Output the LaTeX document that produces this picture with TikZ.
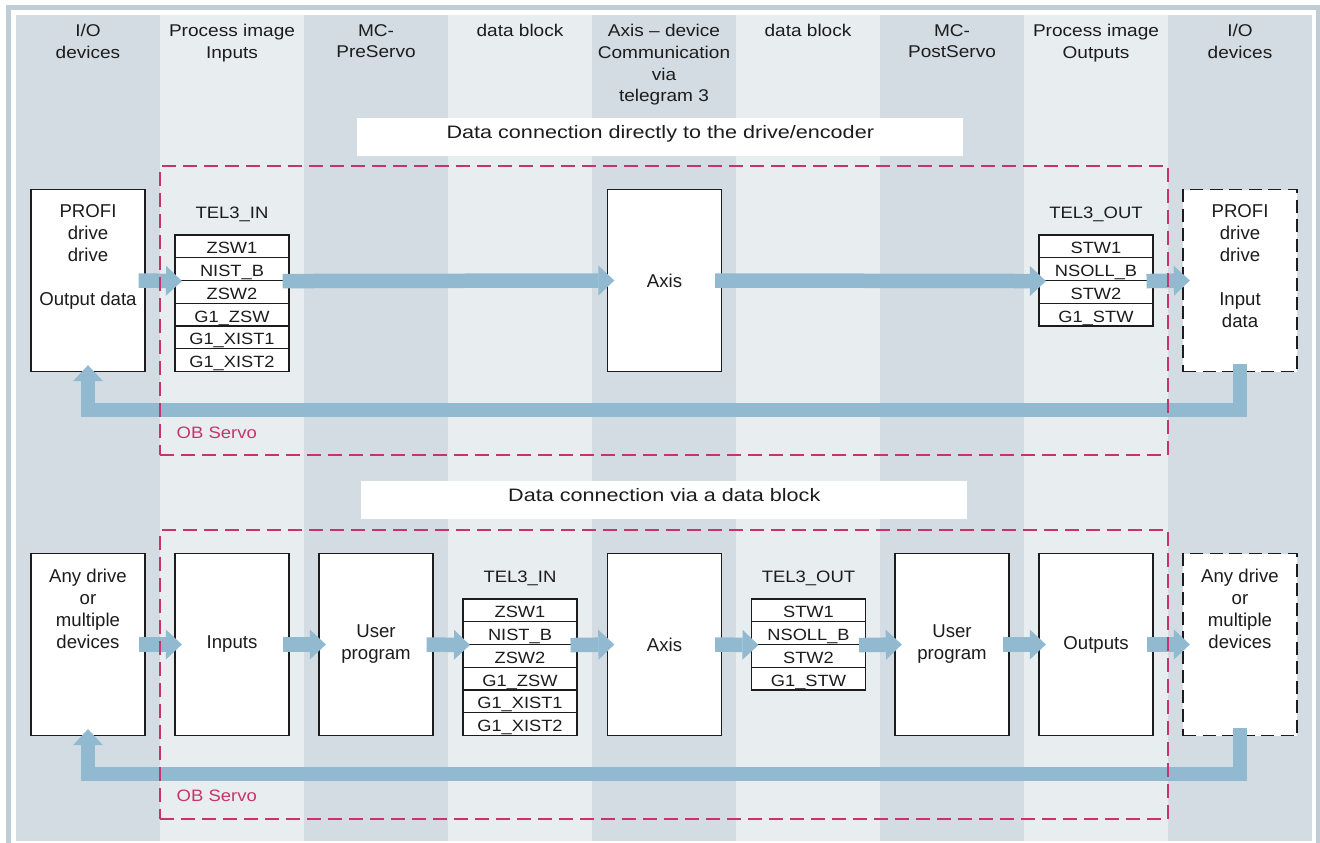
\documentclass[tikz,border=0pt]{standalone}
\usepackage{fontspec}
\setmainfont{Liberation Sans}
\newfontfamily\widesans[FakeStretch=1.12]{Liberation Sans}
\newfontfamily\titlesans[FakeStretch=1.2]{Liberation Sans}
\usetikzlibrary{arrows.meta}
\definecolor{laneDark}{RGB}{211,220,227}
\definecolor{laneLight}{RGB}{232,237,240}
\definecolor{frameBlue}{RGB}{192,205,214}
\definecolor{flowBlue}{RGB}{145,185,208}
\definecolor{obRed}{RGB}{199,52,107}
\definecolor{ink}{RGB}{28,28,28}
\begin{document}
\begin{tikzpicture}[x=1pt, y=-1pt,
  head/.style={font=\widesans\fontsize{17}{21.7}\selectfont, align=center, anchor=north, inner sep=0pt, text=ink},
  titlebox/.style={fill=white, minimum width=606pt, minimum height=38pt, inner sep=0pt,
    font=\titlesans\fontsize{18}{22}\selectfont, text=ink, text height=10pt, text depth=6.8pt},
  box/.style={draw=ink, line width=1.3pt, fill=white, minimum width=114pt, minimum height=182pt,
    inner sep=0pt, font=\fontsize{18.6}{22}\selectfont, align=center, text=ink},
  dbox/.style={box, dash pattern=on 13pt off 6.5pt},
  btext/.style={font=\fontsize{18.6}{22}\selectfont, align=center, anchor=north, inner sep=0pt, text=ink},
  cell/.style={draw=ink, line width=1.1pt, fill=white, minimum width=114pt, minimum height=22.75pt,
    inner sep=0pt, text height=15.2pt, text depth=0pt, font=\widesans\fontsize{16.3}{18}\selectfont, text=ink},
  tlabel/.style={font=\widesans\fontsize{16.5}{18}\selectfont, anchor=base, inner sep=0pt, text=ink},
  oblabel/.style={font=\widesans\fontsize{16.5}{18}\selectfont, anchor=base west, inner sep=0pt, text=obRed},
  obframe/.style={draw=obRed, line width=2.2pt, dash pattern=on 14pt off 7pt,
    minimum width=1008pt, minimum height=288.5pt, inner sep=0pt},
  flow/.style={draw=flowBlue, line width=14.5pt, -{Triangle[length=16pt, width=30pt, line width=0pt]}},
]
\useasboundingbox (0,0) rectangle (1320,843);

% outer frame
\draw[frameBlue, line width=4.5pt] (8.3,7.5) rectangle (1318.5,870);

% swim lanes
\foreach \i/\c in {0/laneDark,1/laneLight,2/laneDark,3/laneLight,4/laneDark,5/laneLight,6/laneDark,7/laneLight,8/laneDark}
  \fill[\c] ({16+144*\i},15) rectangle ({160+144*\i},841);

% lane headings
\node[head] (hIOa)  at (88,24.2)   {I/O\\devices};
\node[head] (hPIIn) at (232,24.2)  {Process image\\Inputs};
\node[head] (hPre)  at (376,24.2)  {MC-\\PreServo};
\node[head] (hDBa)  at (520,24.2)  {data block};
\node[head] (hAx)   at (664,24.2)  {Axis – device\\Communication\\via\\telegram 3};
\node[head] (hDBb)  at (808,24.2)  {data block};
\node[head] (hPost) at (952,24.2)  {MC-\\PostServo};
\node[head] (hPIOut) at (1096,24.2) {Process image\\Outputs};
\node[head] (hIOb)  at (1240,24.2) {I/O\\devices};

% section titles
\node[titlebox] (titleA) at (660.3,136.7) {Data connection directly to the drive/encoder};
\node[titlebox] (titleB) at (664.3,500.2) {Data connection via a data block};

% ---------- direct connection ----------
\node[box] (pdIn) at (88,280.5) {};
\node[btext] (pdInTxt) at (88,204.7) {PROFI\\drive\\drive\\[22pt]Output data};

\node[tlabel] (tinALab) at (232,218) {TEL3\_IN};
\foreach \t [count=\k] in {ZSW1,NIST\_B,ZSW2,G1\_ZSW,G1\_XIST1,G1\_XIST2}
  \node[cell] (tinA\k) at (232,{235+22.75*(\k-0.5)}) {\t};

\node[box] (axA) at (664.5,280.5) {Axis};

\node[tlabel] (toutALab) at (1096,218) {TEL3\_OUT};
\foreach \t [count=\k] in {STW1,NSOLL\_B,STW2,G1\_STW}
  \node[cell] (toutA\k) at (1096,{235+22.75*(\k-0.5)}) {\t};

\node[dbox] (pdOut) at (1240,280.5) {};
\node[btext] (pdOutTxt) at (1240,204.7) {PROFI\\drive\\drive\\[22pt]Input\\data};

\draw[flow] ([xshift=-7pt]pdIn.east) -- ([xshift=7.5pt]tinA2.south west);
\draw[flow] ([xshift=-7pt]tinA2.south east) -- ([xshift=7.5pt]axA.west);
\draw[flow] ([xshift=-7pt]axA.east) -- ([xshift=7.5pt]toutA2.south west);
\draw[flow] ([xshift=-7pt]toutA2.south east) -- ([xshift=7.5pt]pdOut.west);
\draw[flow] ([yshift=8pt]pdOut.south) -- ++(0,46) -| ([yshift=7pt]pdIn.south);

% ---------- connection via data block ----------
\node[box] (devIn) at (88,644.5) {};
\node[btext] (devInTxt) at (88,568.4) {Any drive\\or\\multiple\\devices};
\node[box] (inputs) at (232,644.5) {Inputs};
\node[box] (userA) at (376,644.5) {User\\program};

\node[tlabel] (tinBLab) at (520,582.5) {TEL3\_IN};
\foreach \t [count=\k] in {ZSW1,NIST\_B,ZSW2,G1\_ZSW,G1\_XIST1,G1\_XIST2}
  \node[cell] (tinB\k) at (520,{599+22.75*(\k-0.5)}) {\t};

\node[box] (axB) at (664.5,644.5) {Axis};

\node[tlabel] (toutBLab) at (808.5,582.5) {TEL3\_OUT};
\foreach \t [count=\k] in {STW1,NSOLL\_B,STW2,G1\_STW}
  \node[cell] (toutB\k) at (808.5,{599+22.75*(\k-0.5)}) {\t};

\node[box] (userB) at (952,644.5) {User\\program};
\node[box] (outputs) at (1096,644.5) {Outputs};
\node[dbox] (devOut) at (1240,644.5) {};
\node[btext] (devOutTxt) at (1240,568.4) {Any drive\\or\\multiple\\devices};

\draw[flow] ([xshift=-7pt]devIn.east) -- ([xshift=7.5pt]inputs.west);
\draw[flow] ([xshift=-7pt]inputs.east) -- ([xshift=7.5pt]userA.west);
\draw[flow] ([xshift=-7pt]userA.east) -- ([xshift=7.5pt]tinB2.south west);
\draw[flow] ([xshift=-7pt]tinB2.south east) -- ([xshift=7.5pt]axB.west);
\draw[flow] ([xshift=-7pt]axB.east) -- ([xshift=7.5pt]toutB2.south west);
\draw[flow] ([xshift=-7pt]toutB2.south east) -- ([xshift=7.5pt]userB.west);
\draw[flow] ([xshift=-7pt]userB.east) -- ([xshift=7.5pt]outputs.west);
\draw[flow] ([xshift=-7pt]outputs.east) -- ([xshift=7.5pt]devOut.west);
\draw[flow] ([yshift=8pt]devOut.south) -- ++(0,46) -| ([yshift=7pt]devIn.south);

% OB Servo frames
\node[obframe] (obA) at (664,310.5) {};
\node[oblabel] (obALab) at (176.5,438) {OB Servo};
\node[obframe] (obB) at (664,674.4) {};
\node[oblabel] (obBLab) at (176.5,801.5) {OB Servo};
\end{tikzpicture}
\end{document}
